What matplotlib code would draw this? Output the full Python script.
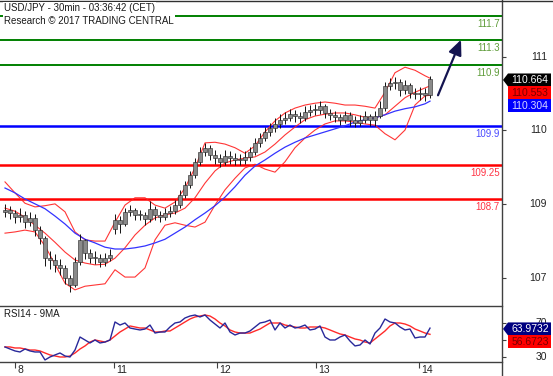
import matplotlib
matplotlib.use('Agg')
import matplotlib.pyplot as plt
from matplotlib.patches import Polygon
from matplotlib.lines import Line2D
from matplotlib.transforms import IdentityTransform, blended_transform_factory

plt.rcParams['font.family'] = ['Liberation Sans', 'DejaVu Sans']

# ---------------- data ----------------
title_lines = ["USD/JPY - 30min - 03:36:42 (CET)", "Research \u00a9 2017 TRADING CENTRAL"]
rsi_title = "RSI14 - 9MA"

closes = [108.52, 108.47, 108.40, 108.44, 108.32, 108.39, 108.19, 108.06, 107.73, 107.70,
          107.62, 107.57, 107.40, 107.29, 107.67, 108.03, 107.81, 107.73, 107.73, 107.67,
          107.73, 107.78, 108.36, 108.29, 108.49, 108.52, 108.44, 108.44, 108.37, 108.54,
          108.44, 108.40, 108.47, 108.50, 108.60, 108.77, 108.93, 109.09, 109.31, 109.47,
          109.54, 109.42, 109.37, 109.31, 109.40, 109.37, 109.34, 109.34, 109.39, 109.47,
          109.62, 109.70, 109.80, 109.86, 109.93, 110.00, 110.03, 110.09, 110.06, 110.03,
          110.13, 110.16, 110.16, 110.22, 110.11, 110.08, 110.04, 110.00, 110.08, 110.00,
          109.95, 110.00, 110.06, 110.00, 110.06, 110.19, 110.55, 110.60, 110.62, 110.49,
          110.57, 110.44, 110.42, 110.44, 110.40, 110.664]
highs = [108.62, 108.58, 108.52, 108.55, 108.50, 108.48, 108.45, 108.25, 108.10, 107.85,
         107.80, 107.72, 107.62, 107.45, 107.75, 108.12, 108.05, 107.88, 107.84, 107.80,
         107.82, 107.88, 108.45, 108.42, 108.56, 108.60, 108.56, 108.52, 108.48, 108.66,
         108.58, 108.50, 108.55, 108.58, 108.68, 108.85, 109.00, 109.16, 109.38, 109.56,
         109.62, 109.58, 109.50, 109.44, 109.50, 109.48, 109.45, 109.44, 109.48, 109.56,
         109.70, 109.78, 109.88, 109.95, 110.02, 110.10, 110.12, 110.18, 110.16, 110.12,
         110.22, 110.24, 110.25, 110.30, 110.26, 110.18, 110.14, 110.10, 110.15, 110.12,
         110.06, 110.08, 110.14, 110.10, 110.14, 110.30, 110.62, 110.68, 110.70, 110.66,
         110.65, 110.60, 110.52, 110.54, 110.52, 110.72]
lows = [108.40, 108.38, 108.30, 108.33, 108.22, 108.25, 108.10, 107.97, 107.60, 107.55,
        107.50, 107.45, 107.30, 107.18, 107.25, 107.62, 107.72, 107.65, 107.64, 107.58,
        107.60, 107.68, 108.12, 108.15, 108.25, 108.42, 108.36, 108.35, 108.28, 108.33,
        108.36, 108.32, 108.36, 108.40, 108.46, 108.55, 108.72, 108.88, 109.05, 109.26,
        109.40, 109.34, 109.28, 109.22, 109.25, 109.28, 109.26, 109.25, 109.28, 109.33,
        109.42, 109.56, 109.65, 109.74, 109.80, 109.86, 109.93, 109.98, 109.97, 109.95,
        109.98, 110.06, 110.08, 110.10, 110.03, 110.00, 109.96, 109.92, 109.94, 109.90,
        109.88, 109.90, 109.95, 109.90, 109.90, 110.02, 110.15, 110.48, 110.50, 110.38,
        110.42, 110.36, 110.34, 110.32, 110.30, 110.36]
first_open = 108.48
gap_opens = {22: 108.20}          # Monday session open after the weekend gap

band_idx = list(range(0, 85, 2)) + [85]
bb_upper = [108.98, 108.80, 108.63, 108.57, 108.59, 108.62, 108.49, 108.16, 108.03, 108.01,
            108.01, 108.32, 108.60, 108.72, 108.72, 108.60, 108.55, 108.65, 108.88, 109.21,
            109.62, 109.63, 109.60, 109.54, 109.45, 109.57, 109.80, 109.98, 110.11, 110.19,
            110.24, 110.27, 110.29, 110.27, 110.24, 110.24, 110.22, 110.19, 110.45, 110.77,
            110.86, 110.81, 110.72, 110.68]
bb_middle = [108.55, 108.50, 108.40, 108.27, 108.14, 107.99, 107.83, 107.70, 107.65, 107.62,
             107.63, 107.73, 107.90, 108.11, 108.27, 108.39, 108.44, 108.47, 108.55, 108.72,
             108.96, 109.16, 109.29, 109.34, 109.37, 109.39, 109.47, 109.60, 109.75, 109.88,
             110.00, 110.06, 110.09, 110.11, 110.11, 110.08, 110.04, 110.03, 110.08, 110.22,
             110.36, 110.45, 110.52, 110.553]
bb_lower = [108.14, 108.16, 108.19, 108.16, 107.93, 107.63, 107.32, 107.21, 107.27, 107.29,
            107.31, 107.54, 107.42, 107.42, 107.57, 108.03, 108.27, 108.31, 108.27, 108.24,
            108.32, 108.60, 108.85, 109.04, 109.21, 109.27, 109.19, 109.14, 109.31, 109.54,
            109.70, 109.83, 109.93, 109.98, 109.98, 109.96, 109.93, 109.91, 109.77, 109.67,
            109.83, 110.24, 110.39, 110.40]
ma_blue = [108.88, 108.80, 108.70, 108.62, 108.54, 108.42, 108.29, 108.14, 108.04, 107.98,
           107.91, 107.88, 107.88, 107.90, 107.93, 107.98, 108.04, 108.14, 108.24, 108.36,
           108.47, 108.59, 108.73, 108.90, 109.09, 109.24, 109.34, 109.45, 109.55, 109.63,
           109.70, 109.75, 109.80, 109.85, 109.90, 109.96, 110.00, 110.03, 110.08, 110.14,
           110.18, 110.21, 110.26, 110.304]

rsi = [41.8, 39.4, 37.1, 35.9, 39.4, 37.1, 35.9, 35.9, 26.5, 30.0,
       32.4, 34.7, 31.2, 30.0, 38.2, 53.5, 50.0, 46.5, 50.0, 46.5,
       47.6, 50.0, 71.2, 67.6, 70.0, 64.1, 62.9, 61.8, 62.9, 67.6,
       58.2, 59.4, 59.4, 65.3, 70.0, 71.2, 75.9, 78.2, 79.4, 77.1,
       79.4, 73.5, 68.8, 64.1, 70.0, 59.4, 55.9, 58.2, 58.2, 60.6,
       65.3, 70.0, 71.2, 73.5, 61.8, 70.0, 64.1, 67.6, 64.1, 65.3,
       67.6, 61.8, 62.9, 66.5, 53.5, 50.0, 50.0, 53.5, 55.9, 48.8,
       43.0, 44.1, 50.0, 45.3, 58.2, 64.1, 74.7, 71.2, 70.0, 65.3,
       61.8, 62.9, 52.4, 53.5, 53.5, 63.9732]
rsi_ma = [41.8, 41.8, 40.6, 40.6, 39.4, 38.2, 38.2, 37.1, 34.7, 32.4,
          31.2, 30.0, 30.0, 31.2, 34.7, 39.4, 43.0, 47.6, 50.0, 48.8,
          47.6, 50.0, 54.7, 59.4, 62.9, 66.5, 65.3, 64.1, 64.1, 61.8,
          59.4, 59.4, 60.6, 60.6, 64.1, 67.6, 71.2, 74.7, 77.1, 78.2,
          79.4, 78.2, 74.7, 70.0, 66.5, 61.8, 59.4, 58.2, 58.2, 58.2,
          60.6, 62.9, 66.5, 70.0, 70.0, 70.0, 67.6, 66.5, 65.3, 64.1,
          64.1, 65.3, 65.3, 65.3, 64.1, 61.8, 59.4, 57.1, 55.9, 53.5,
          51.2, 50.0, 47.6, 46.5, 51.2, 55.9, 60.6, 66.5, 70.0, 70.0,
          68.8, 66.5, 62.9, 60.6, 58.2, 56.6723]

resistance_levels = [111.7, 111.3, 110.9]
resistance_labels = ["111.7", "111.3", "110.9"]
pivot_levels = [109.9]
pivot_labels = ["109.9"]
support_levels = [109.25, 108.7]
support_labels = ["109.25", "108.7"]

price_tick_pos = [111.03, 109.83, 108.62, 107.40]
price_tick_labels = ["111", "110", "109", "107"]
rsi_tick_pos = [70, 50, 30]
rsi_tick_labels = ["70", "50", "30"]
day_pos = [2, 21.8, 42.4, 62.2, 82.8]
day_labels = ["8", "11", "12", "13", "14"]

price_flags = [("110.664", "#000000", "#ffffff", True),
               ("110.553", "#ff0000", "#7a0000", False),
               ("110.304", "#0000ff", "#d8d8ff", False)]
price_flag_value = 110.664
rsi_flags = [("63.9732", "#000080", "#ffffff", True),
             ("56.6723", "#ff0000", "#7a0000", False)]
rsi_flag_value = 63.9732

arrow_start = (86.6, 110.40)
arrow_end = (91.2, 111.31)

# ---------------- figure ----------------
W, H = 553, 376
fig = plt.figure(figsize=(W / 100, H / 100), dpi=100)
fig.patch.set_facecolor('white')


def fy(px):
    return 1 - px / H


ax = fig.add_axes([0, fy(303), 502 / W, fy(2) - fy(303)])
axr = fig.add_axes([0, fy(362), 502 / W, fy(306) - fy(362)])

xlim = (-1, 99.4)
ax.set_xlim(*xlim)
ax.set_ylim(106.995, 111.929)
axr.set_xlim(*xlim)
axr.set_ylim(24.1, 90)

for s in ax.spines.values():
    s.set_visible(False)
for k, s in axr.spines.items():
    s.set_visible(k in ('top', 'bottom'))
    s.set_color('#404040')
    s.set_linewidth(1.0)

# horizontal levels
for lv in resistance_levels:
    ax.axhline(lv, color='#008000', lw=1.4, zorder=2)
for lv in pivot_levels:
    ax.axhline(lv, color='#0000ff', lw=1.8, zorder=2)
for lv in support_levels:
    ax.axhline(lv, color='#ff0000', lw=1.8, zorder=2)

btrans = blended_transform_factory(ax.transAxes, ax.transData)
for lv, lb in zip(resistance_levels, resistance_labels):
    ax.annotate(lb, xy=(499.5 / 502, lv), xycoords=btrans, xytext=(0, -2.2),
                textcoords='offset points', ha='right', va='top', fontsize=7, color='#5f9c3a')
for lv, lb in zip(pivot_levels, pivot_labels):
    ax.annotate(lb, xy=(499.5 / 502, lv), xycoords=btrans, xytext=(0, -2.2),
                textcoords='offset points', ha='right', va='top', fontsize=7, color='#4a4aff')
for lv, lb in zip(support_levels, support_labels):
    ax.annotate(lb, xy=(499.5 / 502, lv), xycoords=btrans, xytext=(0, -2.2),
                textcoords='offset points', ha='right', va='top', fontsize=7, color='#ff3344')

# Bollinger bands and moving average
ax.plot(band_idx, bb_upper, color='#ff2020', lw=0.8, alpha=0.9, zorder=3)
ax.plot(band_idx, bb_middle, color='#ff2020', lw=0.8, alpha=0.9, zorder=3)
ax.plot(band_idx, bb_lower, color='#ff2020', lw=0.8, alpha=0.9, zorder=3)
ax.plot(band_idx, ma_blue, color='#3333ff', lw=0.9, zorder=3)

# candles
opens = [first_open] + closes[:-1]
for k, v in gap_opens.items():
    opens[k] = v
xs = list(range(len(closes)))
ax.vlines(xs, lows, highs, color='#111111', lw=0.7, zorder=4)
bottoms = [min(o, c) for o, c in zip(opens, closes)]
heights = [max(abs(c - o), 0.02) for o, c in zip(opens, closes)]
ax.bar(xs, heights, bottom=bottoms, width=0.75, color='#8a8a8a', edgecolor='#222222',
       linewidth=0.4, zorder=5)

# arrow
ax.annotate('', xy=arrow_end, xytext=arrow_start,
            arrowprops=dict(arrowstyle='-|>,head_length=0.9,head_width=0.4', color='#141450',
                            lw=1.6, shrinkA=0, shrinkB=0), zorder=6)

# ticks
ax.set_xticks([])
ax.set_yticks(price_tick_pos)
ax.tick_params(axis='y', left=False, right=True, labelleft=False, labelright=False,
               length=3, width=0.8, color='#404040', direction='out')
axr.set_yticks(rsi_tick_pos)
axr.tick_params(axis='y', left=False, right=True, labelleft=False, labelright=False,
                length=3, width=0.8, color='#404040', direction='out')
axr.set_xticks(day_pos)
axr.tick_params(axis='x', bottom=True, labelbottom=False, length=4, width=0.8,
                color='#404040', direction='out')

# right tick labels
for p, lb in zip(price_tick_pos, price_tick_labels):
    ax.text(547 / 502, p, lb, transform=btrans, ha='right', va='center', fontsize=7.5,
            color='#222222')
brs = blended_transform_factory(axr.transAxes, axr.transData)
for p, lb in zip(rsi_tick_pos, rsi_tick_labels):
    axr.text(547 / 502, p, lb, transform=brs, ha='right', va='center', fontsize=7.5,
             color='#222222')

# day labels
for p, lb in zip(day_pos, day_labels):
    axr.annotate(lb, xy=(p, 0), xycoords=('data', 'axes fraction'), xytext=(1.5, -5.8),
                 textcoords='offset points', ha='left', va='center', fontsize=7.5,
                 color='#222222')

# RSI lines
axr.plot(xs, rsi_ma, color='#ff2a2a', lw=1.0, zorder=3)
axr.plot(xs, rsi, color='#28289a', lw=1.0, zorder=4)

# titles
fig.text(4 / W, fy(8), title_lines[0], fontsize=7, color='#1a1a1a', va='center', ha='left',
         bbox=dict(facecolor='white', edgecolor='none', pad=0.6), zorder=10)
fig.text(4 / W, fy(21), title_lines[1], fontsize=7, color='#1a1a1a', va='center', ha='left',
         bbox=dict(facecolor='white', edgecolor='none', pad=0.6), zorder=10)
fig.text(4 / W, fy(314), rsi_title, fontsize=7, color='#1a1a1a', va='center', ha='left')

# frame lines (right spine through both panels, top border)
fig.add_artist(Line2D([502 / W, 502 / W], [0, 1], color='#404040', lw=1.0,
                      transform=fig.transFigure))
fig.add_artist(Line2D([0, 1], [fy(0.5), fy(0.5)], color='#303030', lw=1.0,
                      transform=fig.transFigure))


# value flags on the right
def draw_flags(axis, value, flags):
    y_disp = axis.transData.transform((0, value))[1]
    yc0 = H - y_disp
    for k, (txt, bg, fg, arrow) in enumerate(flags):
        yc = yc0 + 13 * k + 0.8
        top, bot = yc - 6.5, yc + 6.5
        pts = [(508, top), (551, top), (551, bot), (508, bot)]
        if arrow:
            pts = [(503, yc)] + pts[3:] + pts[:3]
            pts = [(503, yc), (508, bot), (551, bot), (551, top), (508, top)]
        poly = Polygon([(x, H - y) for x, y in pts], closed=True, facecolor=bg,
                       edgecolor='none', transform=IdentityTransform(), zorder=20)
        fig.add_artist(poly)
        fig.text(530 / W, fy(yc), txt, fontsize=7.5, color=fg, ha='center', va='center',
                 zorder=21)


draw_flags(ax, price_flag_value, price_flags)
draw_flags(axr, rsi_flag_value, rsi_flags)

fig.savefig('out.png', dpi=100, facecolor='white')
